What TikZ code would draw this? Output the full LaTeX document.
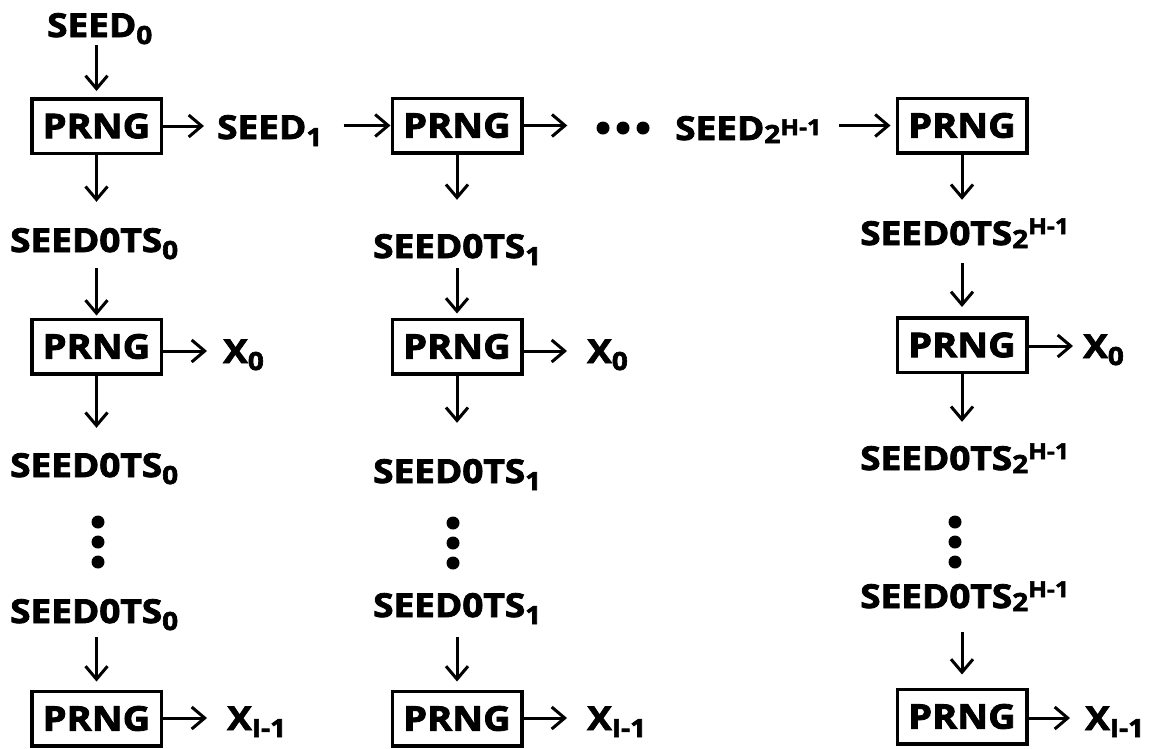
\documentclass[tikz,border=0pt]{standalone}
\usepackage{fontspec}
\setmainfont{Open Sans}[FakeStretch=1.12, BoldFeatures={FakeBold=2.5}]
\usetikzlibrary{arrows.meta}

% lowered index, and the 2^{H-1} index used by the last column
\newcommand\lo[1]{\raisebox{-7pt}{\fontsize{25}{25}\selectfont #1}}
\newcommand\twoH[1]{\raisebox{-3pt}{\fontsize{25}{25}\selectfont 2}\raisebox{#1}{\fontsize{22}{22}\selectfont H-1}}

\begin{document}
\begin{tikzpicture}[x=1pt,y=-1pt,
  box/.style={draw, line width=3.5pt, minimum width=129.5pt, minimum height=54.5pt,
              inner sep=0pt, font=\fontsize{34}{34}\selectfont\bfseries},
  lbl/.style={inner sep=0pt, anchor=base west, text height=24pt, text depth=0pt,
              font=\fontsize{33}{33}\selectfont\bfseries},
  arr/.style={line width=3pt, -{Straight Barb[length=13pt,width=22pt]}},
  sh/.style 2 args={shorten <=#1, shorten >=#2},
  vdots/.style={inner sep=0pt, minimum width=14pt, minimum height=53pt},
  hdots/.style={inner sep=0pt, minimum width=53pt, minimum height=14pt}]
\useasboundingbox (0,0) rectangle (1155,748);

% ---- PRNG boxes
\node[box] (p11) at (96.5,126)   {PRNG};
\node[box] (p12) at (96.5,346.5) {PRNG};
\node[box] (p13) at (96.5,718.5) {PRNG};
\node[box] (p21) at (457,125.5)  {PRNG};
\node[box] (p22) at (457,346.5)  {PRNG};
\node[box] (p23) at (457,718.5)  {PRNG};
\node[box] (p31) at (962,125.5)  {PRNG};
\node[box] (p32) at (962,345)    {PRNG};
\node[box] (p33) at (962,716.5)  {PRNG};

% ---- seeds along the top row
\node[lbl] (s0) at (47,37)   {SEED\lo{0}};
\node[lbl] (s1) at (217,139) {SEED\lo{1}};
\node[lbl] (sH) at (675,140) {SEED\twoH{5pt}};

% ---- seed lists of each column
\node[lbl] (t11) at (10,252) {SEED0TS\lo{0}};
\node[lbl] (t12) at (10,477) {SEED0TS\lo{0}};
\node[lbl] (t13) at (10,623) {SEED0TS\lo{0}};
\node[lbl] (t21) at (373,258) {SEED0TS\lo{1}};
\node[lbl] (t22) at (373,483) {SEED0TS\lo{1}};
\node[lbl] (t23) at (373,617) {SEED0TS\lo{1}};
\node[lbl] (t31) at (860,245) {SEED0TS\twoH{11pt}};
\node[lbl] (t32) at (860,470) {SEED0TS\twoH{11pt}};
\node[lbl] (t33) at (860,608) {SEED0TS\twoH{11pt}};

% ---- outputs
\node[lbl] (x1) at (223,363)  {X\lo{0}};
\node[lbl] (x2) at (587,363)  {X\lo{0}};
\node[lbl] (x3) at (1083,358) {X\lo{0}};
\node[lbl] (y1) at (227,730)  {X\lo{I-1}};
\node[lbl] (y2) at (587,730)  {X\lo{I-1}};
\node[lbl] (y3) at (1085,730) {X\lo{I-1}};

% ---- ellipses
\node[hdots] (hd)  at (623,128) {};
\node[vdots] (vd1) at (98,542)  {};
\node[vdots] (vd2) at (453,543) {};
\node[vdots] (vd3) at (955,542) {};
\foreach \d in {-20,0,20} {
  \fill ([xshift=\d pt]hd.center) circle (6.5pt);
  \fill ([yshift=\d pt]vd1.center) circle (6.5pt);
  \fill ([yshift=\d pt]vd2.center) circle (6.5pt);
  \fill ([yshift=\d pt]vd3.center) circle (6.5pt);
}

% ---- top chain
\draw[arr, sh={8pt}{6pt}]  (p11 |- s0.south) -- (p11.north);
\draw[arr, sh={0pt}{13pt}] (p11.east) -- (p11.east -| s1.west);
\draw[arr, sh={21pt}{0pt}] (p21.west -| s1.east) -- (p21.west);
\draw[arr, sh={0pt}{29pt}] (p21.east) -- (p21.east -| hd.west);
\draw[arr, sh={18pt}{5pt}] (p31.west -| sH.east) -- (p31.west);

% ---- column 1
\draw[arr, sh={0pt}{26pt}]  (p11.south) -- (p11 |- t11.north);
\draw[arr, sh={16pt}{2pt}]  (p12 |- t11.south) -- (p12.north);
\draw[arr, sh={0pt}{16pt}]  (p12.east |- x1.west) -- (x1.west);
\draw[arr, sh={0pt}{25pt}]  (p12.south) -- (p12 |- t12.north);
\draw[arr, sh={14pt}{8pt}]  (p13 |- t13.south) -- (p13.north);
\draw[arr, sh={0pt}{20pt}]  (p13.east |- y1.west) -- (y1.west);

% ---- column 2
\draw[arr, sh={0pt}{34pt}]  (p21.south) -- (p21 |- t21.north);
\draw[arr, sh={10pt}{4pt}]  (p22 |- t21.south) -- (p22.north);
\draw[arr, sh={0pt}{20pt}]  (p22.east |- x2.west) -- (x2.west);
\draw[arr, sh={0pt}{36pt}]  (p22.south) -- (p22 |- t22.north);
\draw[arr, sh={20pt}{8pt}]  (p23 |- t23.south) -- (p23.north);
\draw[arr, sh={0pt}{20pt}]  (p23.east |- y2.west) -- (y2.west);

% ---- column 3
\draw[arr, sh={0pt}{21pt}]  (p31.south) -- (p31 |- t31.north);
\draw[arr, sh={18pt}{9pt}]  (p32 |- t31.south) -- (p32.north);
\draw[arr, sh={0pt}{10pt}]  (p32.east |- x3.west) -- (x3.west);
\draw[arr, sh={0pt}{24pt}]  (p32.south) -- (p32 |- t32.north);
\draw[arr, sh={24pt}{13pt}] (p33 |- t33.south) -- (p33.north);
\draw[arr, sh={0pt}{15pt}]  (p33.east |- y3.west) -- (y3.west);
\end{tikzpicture}
\end{document}
